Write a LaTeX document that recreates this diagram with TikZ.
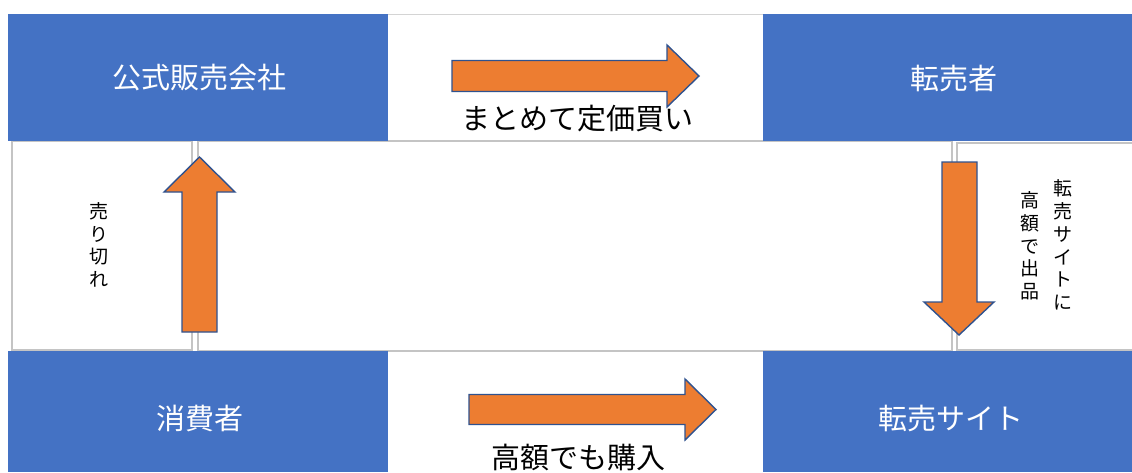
\documentclass[tikz,border=0pt]{standalone}
\usepackage{fontspec}
\newfontfamily\jp{Noto Sans CJK JP}
\definecolor{boxblue}{HTML}{4472C4}
\definecolor{arroworange}{HTML}{ED7D31}
\definecolor{arrowedge}{HTML}{2F528F}
\definecolor{gridgray}{HTML}{C4C4C4}
\definecolor{gridlight}{HTML}{D4D4D4}
\begin{document}
\begin{tikzpicture}[x=1pt,y=-1pt,
  bluebox/.style={fill=boxblue, draw=none, inner sep=0pt, anchor=north west},
  boxtext/.style={text=white, inner sep=0pt, font=\jp\fontsize{29}{34}\selectfont},
  labeltext/.style={text=black, inner sep=0pt, font=\jp\fontsize{29}{34}\selectfont},
  verttext/.style={text=black, inner sep=0pt, align=center, font=\jp\fontsize{19}{22.7}\selectfont},
  gridline/.style={draw=gridgray, line width=2pt},
  thinline/.style={draw=gridlight, line width=1pt},
  blockarrow/.style={fill=arroworange, draw=arrowedge, line width=1.4pt, line join=miter}]
\useasboundingbox (0,0) rectangle (1132,472);
\clip (0,0) rectangle (1132,472);
\fill[white] (0,0) rectangle (1132,472);

% table grid lines
\draw[thinline] (388,14) -- (763,14);
\draw[gridline] (198,141) -- (952,141);
\draw[gridline] (198,351) -- (952,351);
\draw[gridline] (198,141) -- (198,351);
\draw[gridline] (952,141) -- (952,351);
\draw[gridline] (12,141) rectangle (192,350);
\draw[gridline] (957,143) rectangle (1140,350);

% blue boxes
\node[bluebox, minimum width=380pt, minimum height=127pt] (makerbox) at (8,14) {};
\node[bluebox, minimum width=369pt, minimum height=127pt] (resellerbox) at (763,14) {};
\node[bluebox, minimum width=380pt, minimum height=121pt] (consumerbox) at (8,351) {};
\node[bluebox, minimum width=369pt, minimum height=121pt] (sitebox) at (763,351) {};

\node[boxtext] (maker) at (199,78) {公式販売会社};
\node[boxtext] (reseller) at (954,78) {転売者};
\node[boxtext] (consumer) at (200,418) {消費者};
\node[boxtext] (site) at (951,418) {転売サイト};

% block arrows
\draw[blockarrow] (452,60.5) -- (667,60.5) -- (667,45) -- (699,76) -- (667,107) -- (667,91.5) -- (452,91.5) -- cycle;
\draw[blockarrow] (469,394.5) -- (685,394.5) -- (685,379) -- (716,409.5) -- (685,440) -- (685,424.5) -- (469,424.5) -- cycle;
\draw[blockarrow] (182,332) -- (182,192) -- (164,192) -- (199.5,157) -- (235,192) -- (217,192) -- (217,332) -- cycle;
\draw[blockarrow] (942,162) -- (942,302) -- (924,302) -- (959,335) -- (994,302) -- (977,302) -- (977,162) -- cycle;

% labels
\node[labeltext] (buy) at (577,119) {まとめて定価買い};
\node[labeltext] (purchase) at (578,457) {高額でも購入};
\node[verttext] (soldout) at (99,245) {売\\り\\切\\れ};
\node[verttext] (listing1) at (1063,245) {転\\売\\サ\\イ\\ト\\に};
\node[verttext] (listing2) at (1030,246) {高\\額\\で\\出\\品};
\end{tikzpicture}
\end{document}
